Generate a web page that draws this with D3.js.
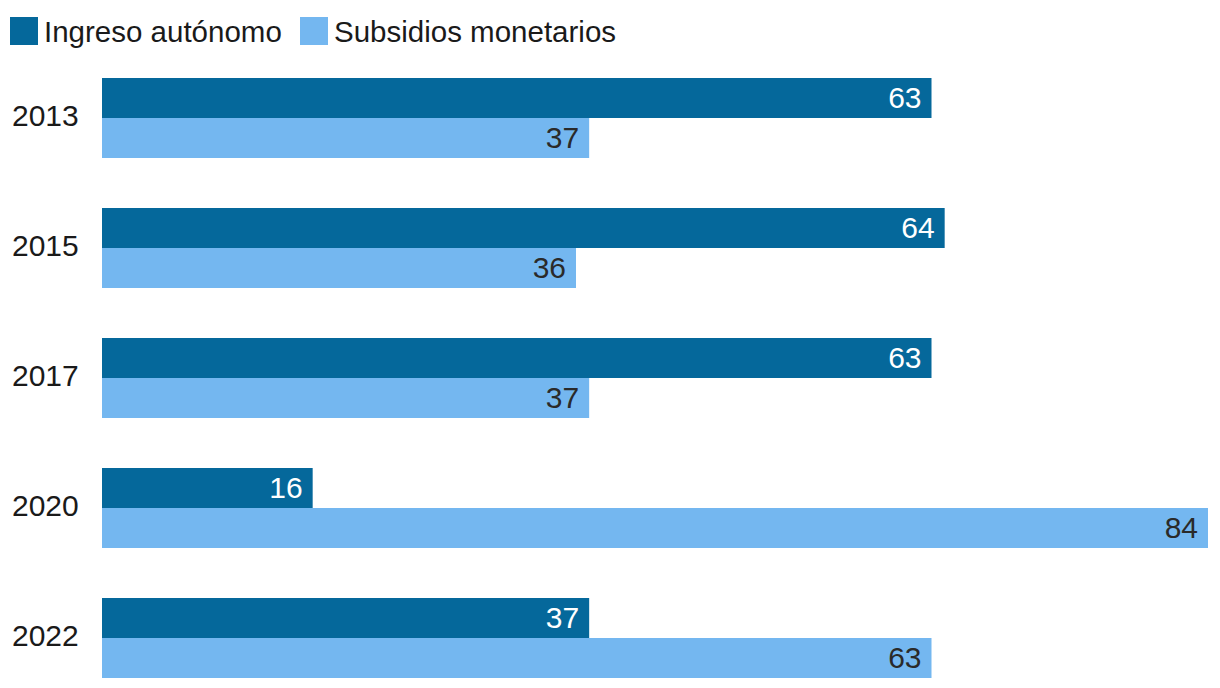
<!DOCTYPE html>
<html><head><meta charset="utf-8">
<script src="https://cdn.jsdelivr.net/npm/d3@7"></script>
<style>body{margin:0;background:#fff;} text{font-family:"Liberation Sans",Arial,sans-serif;}</style>
</head><body>
<svg id="c" width="1220" height="688"></svg>
<script>
const years = ["2013","2015","2017","2020","2022"];
const ingreso = [63,64,63,16,37];
const subsidios = [37,36,37,84,63];
const seriesNames = ["Ingreso autónomo","Subsidios monetarios"];
const colors = ["#05689b","#74b7f0"];

const svg = d3.select("#c");
const x = d3.scaleLinear().domain([0,84]).range([102,1208]);
const y = d3.scaleBand().domain(years).range([78,678]).paddingInner(50/130).paddingOuter(0);
const ySub = d3.scaleBand().domain([0,1]).range([0,y.bandwidth()]);

const data = years.map((yr,i)=>({year:yr, vals:[ingreso[i], subsidios[i]]}));

const g = svg.selectAll("g.grp").data(data).join("g").attr("class","grp")
  .attr("transform", d=>`translate(0,${y(d.year)})`);

g.selectAll("rect").data(d=>d.vals).join("rect")
  .attr("x", x(0)).attr("y",(v,j)=>ySub(j))
  .attr("width", v=>x(v)-x(0)).attr("height", ySub.bandwidth())
  .attr("fill",(v,j)=>colors[j]);

g.selectAll("text.val").data(d=>d.vals).join("text").attr("class","val")
  .attr("x", v=>x(v)-10).attr("y",(v,j)=>ySub(j)+ySub.bandwidth()/2-1)
  .attr("dy","0.36em").attr("text-anchor","end")
  .attr("font-size",30).attr("fill",(v,j)=> j===0?"#fff":"#2a2a2a")
  .text(v=>v);

g.append("text").attr("x",12).attr("y",y.bandwidth()/2-3).attr("dy","0.36em")
  .attr("font-size",30).attr("fill","#1a1a1a").text(d=>d.year);

// legend
const legX = [10, 300];
const leg = svg.selectAll("g.leg").data(seriesNames).join("g").attr("class","leg")
  .attr("transform",(d,i)=>`translate(${legX[i]},17)`);
leg.append("rect").attr("width",28).attr("height",28).attr("fill",(d,i)=>colors[i]);
leg.append("text").attr("x",34).attr("y",14).attr("dy","0.36em")
  .attr("font-size",29.5).attr("fill","#1a1a1a").text(d=>d);
</script>
</body></html>
